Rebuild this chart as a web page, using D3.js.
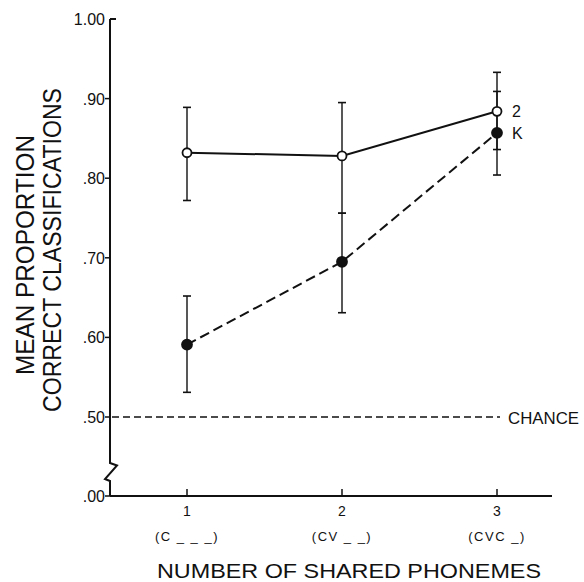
<!DOCTYPE html>
<html>
<head>
<meta charset="utf-8">
<script src="https://cdn.jsdelivr.net/npm/d3@7"></script>
<style>
  body { margin: 0; background: #fff; }
  svg text { font-family: "Liberation Sans", Arial, sans-serif; fill: #111; }
</style>
</head>
<body>
<script>
// shared phonemes vs. classification accuracy

var levels = [1, 2, 3];
var levelLabels = ['(C _ _ _)', '(CV _ _)', '(CVC _)'];
var yTicks = [1.00, 0.90, 0.80, 0.70, 0.60, 0.50, 0.00];
var yTickLabels = ['1.00', '.90', '.80', '.70', '.60', '.50', '.00'];

// group "2" (open circles, solid)
var mean2 = [0.832, 0.828, 0.884];
var lo2 = [0.772, 0.756, 0.836];
var hi2 = [0.889, 0.895, 0.933];

// group "K" (filled circles, dashed)
var meanK = [0.591, 0.695, 0.857];
var loK = [0.531, 0.631, 0.804];
var hiK = [0.652, 0.756, 0.909];

var chance = 0.50;

var createSvg = function() {
  let width = 584, height = 582;
  let axisX = 110, axisBottom = 496;

  let svg = d3.select('body')
    .append('svg')
    .attr('width', width)
    .attr('height', height);

  // broken y axis: .00 sits one step below .50
  let y = d3.scaleLinear()
    .domain([0, 0.5, 1.0])
    .range([axisBottom, 417, 19]);
  let x = d3.scaleLinear()
    .domain([1, 3])
    .range([187, 497]);

  // y axis with the zigzag break
  let brk = [[axisX, y(1.0)], [axisX, 463], [117, 465.5], [105, 479], [axisX, 481], [axisX, axisBottom]];
  svg.append('path')
    .attr('d', d3.line()(brk))
    .attr('fill', 'none').attr('stroke', '#111').attr('stroke-width', 2);
  // little cap at the top
  svg.append('line')
    .attr('x1', axisX).attr('x2', axisX + 6)
    .attr('y1', y(1.0)).attr('y2', y(1.0))
    .attr('stroke', '#111').attr('stroke-width', 2);

  svg.selectAll('.ytick')
    .data(yTicks.slice(1))
    .enter().append('line')
    .attr('x1', axisX - 5).attr('x2', axisX)
    .attr('y1', d => y(d)).attr('y2', d => y(d))
    .attr('stroke', '#111').attr('stroke-width', 1.5);

  svg.selectAll('.ylab')
    .data(yTicks)
    .enter().append('text')
    .attr('x', axisX - 5)
    .attr('y', d => y(d) + 6)
    .attr('text-anchor', 'end')
    .attr('font-size', 16)
    .text((d, i) => yTickLabels[i]);

  // x axis
  svg.append('line')
    .attr('x1', axisX).attr('x2', 552)
    .attr('y1', axisBottom).attr('y2', axisBottom)
    .attr('stroke', '#111').attr('stroke-width', 2);
  svg.selectAll('.xtick')
    .data(levels)
    .enter().append('line')
    .attr('x1', d => x(d)).attr('x2', d => x(d))
    .attr('y1', axisBottom - 7).attr('y2', axisBottom)
    .attr('stroke', '#111').attr('stroke-width', 1.5);
  svg.selectAll('.xlab')
    .data(levels)
    .enter().append('text')
    .attr('x', d => x(d))
    .attr('y', 516)
    .attr('text-anchor', 'middle')
    .attr('font-size', 14)
    .text(d => d);
  svg.selectAll('.xsub')
    .data(levels)
    .enter().append('text')
    .attr('x', d => x(d))
    .attr('y', 541)
    .attr('text-anchor', 'middle')
    .attr('font-size', 13)
    .attr('letter-spacing', 1.5)
    .text((d, i) => levelLabels[i]);

  // titles
  svg.append('text')
    .attr('x', 349).attr('y', 578)
    .attr('text-anchor', 'middle')
    .attr('font-size', 21)
    .attr('textLength', 384).attr('lengthAdjust', 'spacingAndGlyphs')
    .text('NUMBER OF SHARED PHONEMES');
  svg.append('text')
    .attr('transform', 'translate(34,255) rotate(-90)')
    .attr('text-anchor', 'middle')
    .attr('font-size', 26)
    .attr('textLength', 240).attr('lengthAdjust', 'spacingAndGlyphs')
    .text('MEAN  PROPORTION');
  svg.append('text')
    .attr('transform', 'translate(61,250) rotate(-90)')
    .attr('text-anchor', 'middle')
    .attr('font-size', 26)
    .attr('textLength', 324).attr('lengthAdjust', 'spacingAndGlyphs')
    .text('CORRECT CLASSIFICATIONS');

  // chance line
  svg.append('line')
    .attr('x1', axisX + 2).attr('x2', x(3) + 3)
    .attr('y1', y(chance)).attr('y2', y(chance))
    .attr('stroke', '#111').attr('stroke-width', 1.5)
    .attr('stroke-dasharray', '7,4');
  svg.append('text')
    .attr('x', 508).attr('y', y(chance) + 6.5)
    .attr('font-size', 17)
    .attr('textLength', 71).attr('lengthAdjust', 'spacingAndGlyphs')
    .text('CHANCE');

  let series = [
    { mean: mean2, lo: lo2, hi: hi2, dash: null, fill: '#fff', label: '2' },
    { mean: meanK, lo: loK, hi: hiK, dash: '10,5', fill: '#111', label: 'K' }
  ];

  // error bars
  series.forEach(s => {
    let g = svg.append('g');
    levels.forEach((lv, i) => {
      let cx = x(lv);
      g.append('line')
        .attr('x1', cx).attr('x2', cx)
        .attr('y1', y(s.lo[i])).attr('y2', y(s.hi[i]))
        .attr('stroke', '#111').attr('stroke-width', 1.4);
      [s.lo[i], s.hi[i]].forEach(v => {
        g.append('line')
          .attr('x1', cx - 4).attr('x2', cx + 4)
          .attr('y1', y(v)).attr('y2', y(v))
          .attr('stroke', '#111').attr('stroke-width', 1.6);
      });
    });
  });

  // lines
  let line = d3.line()
    .x((d, i) => x(levels[i]))
    .y(d => y(d));
  series.forEach(s => {
    svg.append('path')
      .attr('d', line(s.mean))
      .attr('fill', 'none')
      .attr('stroke', '#111')
      .attr('stroke-width', 2)
      .attr('stroke-dasharray', s.dash);
  });

  // points
  series.forEach(s => {
    svg.selectAll(null)
      .data(s.mean)
      .enter().append('circle')
      .attr('cx', (d, i) => x(levels[i]))
      .attr('cy', d => y(d))
      .attr('r', s.fill === '#fff' ? 4.5 : 5)
      .attr('fill', s.fill)
      .attr('stroke', '#111')
      .attr('stroke-width', 1.8);
  });

  // series labels next to the last point
  series.forEach(s => {
    svg.append('text')
      .attr('x', x(3) + 15)
      .attr('y', y(s.mean[2]) + 6)
      .attr('font-size', 16)
      .text(s.label);
  });
}

var load = function() {
  createSvg();
}

load();
</script>
</body>
</html>
